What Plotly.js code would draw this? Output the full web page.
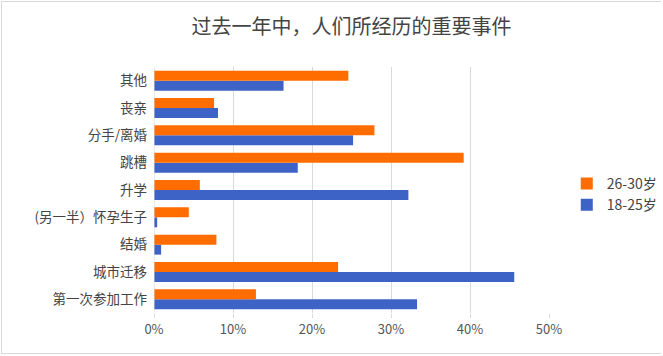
<!DOCTYPE html>
<html><head><meta charset="utf-8">
<script src="https://cdn.plot.ly/plotly-3.0.1.min.js"></script>
<style>
html,body{margin:0;padding:0;background:#fff;}
#wrap{position:relative;width:663px;height:356px;}
#chart{width:663px;height:356px;}
#frame{position:absolute;left:1px;top:1px;width:659px;height:351px;border:1px solid #d8d8d8;border-right:none;pointer-events:none;}
</style></head>
<body>
<div id="wrap"><div id="chart"></div><div id="frame"></div></div>
<script>
// categories listed bottom-to-top
const categories = ['第一次参加工作','城市迁移','结婚','(另一半）怀孕生子','升学','跳槽','分手/离婚','丧亲','其他'];
const age18to25 = [0.333, 0.456, 0.009, 0.004, 0.322, 0.182, 0.252, 0.081, 0.164];
const age26to30 = [0.129, 0.233, 0.079, 0.044, 0.058, 0.392, 0.279, 0.076, 0.246];
const seriesNames = ['18-25岁','26-30岁'];
const xTicks = [0, 0.1, 0.2, 0.3, 0.4, 0.5];
const xTickText = ['0%','10%','20%','30%','40%','50%'];

const font = 'Noto Sans CJK SC, Noto Sans, sans-serif';
const data = [
  {type:'bar', orientation:'h', name:seriesNames[0], y:categories, x:age18to25,
   marker:{color:'#3E63C6'}, hoverinfo:'x+y'},
  {type:'bar', orientation:'h', name:seriesNames[1], y:categories, x:age26to30,
   marker:{color:'#FF6C00'}, hoverinfo:'x+y'}
];
const layout = {
  width:663, height:356,
  margin:{l:154, r:114, t:67, b:43, autoexpand:false},
  paper_bgcolor:'#fff', plot_bgcolor:'#fff',
  font:{family:font, size:13, color:'#444'},
  title:{text:'过去一年中，人们所经历的重要事件', font:{family:font, size:20, color:'#444'},
         x:0.5, xref:'paper', xanchor:'center', y:1-27/356, yref:'container', yanchor:'middle'},
  barmode:'group', bargap:0.27, bargroupgap:0,
  xaxis:{range:[0,0.5], tickvals:xTicks, ticktext:xTickText, showgrid:true, gridcolor:'#d9d9d9',
         zeroline:false, showline:false, ticks:'outside', ticklen:4, tickcolor:'#d9d9d9',
         tickfont:{size:13, color:'#555'}, fixedrange:true, automargin:false},
  yaxis:{type:'category', categoryorder:'array', categoryarray:categories, showgrid:false,
         zeroline:false, showline:false, ticks:'', ticklabelstandoff:6,
         tickfont:{size:13.5, color:'#444'}, fixedrange:true, automargin:false},
  shapes:[{type:'line', xref:'x', yref:'paper', x0:0, x1:0, y0:0, y1:1, line:{color:'#d9d9d9', width:1}}],
  legend:{x:1.045, xanchor:'left', y:0.482, yanchor:'middle', traceorder:'reversed',
          font:{size:14, color:'#444'}, itemwidth:30, bgcolor:'rgba(0,0,0,0)'},
  showlegend:true
};
Plotly.newPlot('chart', data, layout, {displayModeBar:false, staticPlot:true});
</script>
</body></html>
